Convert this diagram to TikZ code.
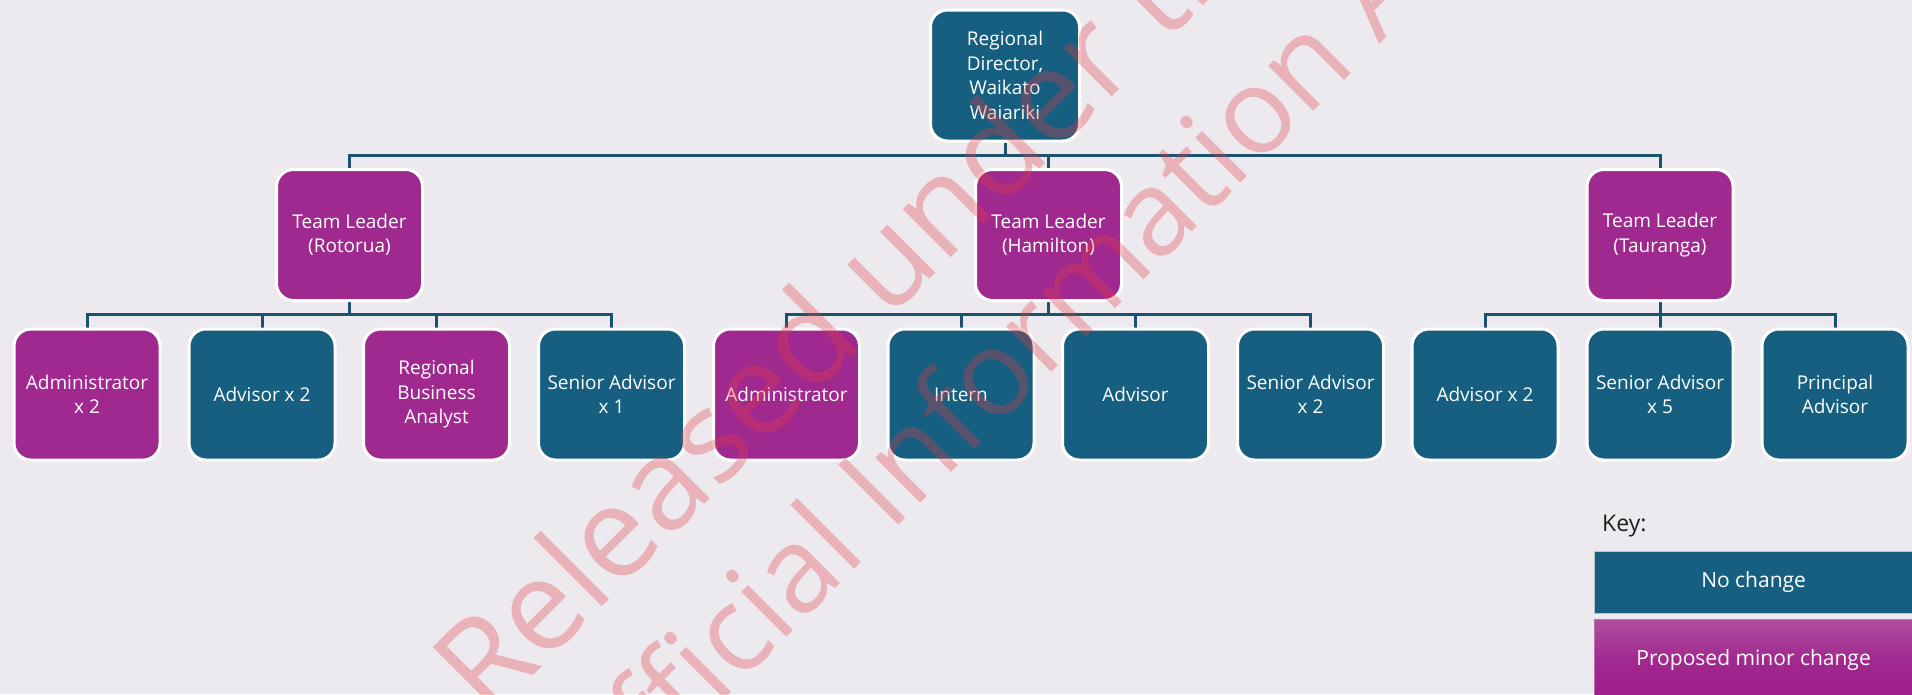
\documentclass[tikz,border=0pt]{standalone}
\usepackage{fontspec}
\setmainfont{Open Sans}
\newfontfamily\wmfont{Open Sans}
\pgfdeclarelayer{bglayer}
\pgfsetlayers{bglayer,main}
\definecolor{bgc}{RGB}{236,234,239}
\definecolor{tealc}{RGB}{23,95,128}
\definecolor{magc}{RGB}{160,41,143}
\definecolor{linec}{RGB}{27,83,110}
\definecolor{wmc}{RGB}{228,58,68}
\definecolor{keyedge}{RGB}{180,200,214}
\definecolor{magtop}{RGB}{176,78,158}
\definecolor{magbot}{RGB}{158,30,140}
\definecolor{magedge}{RGB}{190,110,180}
\begin{document}
\begin{tikzpicture}[x=1pt,y=-1pt,
  box/.style={rectangle, rounded corners=17pt, draw=white, line width=3pt,
    minimum width=146pt, minimum height=131pt, inner sep=0pt, align=center,
    text=white, font=\fontsize{19}{24.5}\selectfont},
  nochg/.style={box, fill=tealc},
  minor/.style={box, fill=magc},
  conn/.style={draw=linec, line width=3pt},
  keybox/.style={rectangle, minimum width=318pt, inner sep=0pt, anchor=north west,
    text=white, font=\fontsize{21}{25}\selectfont, line width=1.2pt},
  wm/.style={rotate=45, anchor=base west, inner sep=0pt, text=wmc, text opacity=0.32}
]
\useasboundingbox (0,0) rectangle (1912,694);
\begin{pgfonlayer}{bglayer}
\fill[bgc] (0,0) rectangle (1912,694);
\end{pgfonlayer}

% top
\node[nochg, minimum width=149pt] (rd) at (1005,75.5) {Regional\\Director,\\Waikato\\Waiariki};
% team leaders
\node[minor] (tl1) at (349.5,235) {Team Leader\\(Rotorua)};
\node[minor] (tl2) at (1048.5,235) {Team Leader\\(Hamilton)};
\node[minor] (tl3) at (1660,235) {Team Leader\\(Tauranga)};
% children
\node[minor] (c1) at (87,394.5) {Administrator\\x 2};
\node[nochg] (c2) at (262,394.5) {Advisor x 2};
\node[minor] (c3) at (436.5,394.5) {Regional\\Business\\Analyst};
\node[nochg] (c4) at (611.5,394.5) {Senior Advisor\\x 1};
\node[minor] (c5) at (786.5,394.5) {Administrator};
\node[nochg] (c6) at (961,394.5) {Intern};
\node[nochg] (c7) at (1135.5,394.5) {Advisor};
\node[nochg] (c8) at (1310.5,394.5) {Senior Advisor\\x 2};
\node[nochg] (c9) at (1485,394.5) {Advisor x 2};
\node[nochg] (c10) at (1660,394.5) {Senior Advisor\\x 5};
\node[nochg] (c11) at (1835,394.5) {Principal\\Advisor};

\coordinate (bar0) at (0,155.5);
\coordinate (bar1) at (0,314.5);

\begin{pgfonlayer}{bglayer}
\draw[conn] (rd.south) -- (rd.south |- bar0);
\draw[conn] (tl1.north) -- (tl1.north |- bar0) -- (tl3.north |- bar0) -- (tl3.north);
\draw[conn] (tl2.north) -- (tl2.north |- bar0);
% Rotorua
\draw[conn] (tl1.south) -- (tl1.south |- bar1);
\draw[conn] (c1.north) -- (c1.north |- bar1) -- (c4.north |- bar1) -- (c4.north);
\draw[conn] (c2.north) -- (c2.north |- bar1);
\draw[conn] (c3.north) -- (c3.north |- bar1);
% Hamilton
\draw[conn] (tl2.south) -- (tl2.south |- bar1);
\draw[conn] (c5.north) -- (c5.north |- bar1) -- (c8.north |- bar1) -- (c8.north);
\draw[conn] (c6.north) -- (c6.north |- bar1);
\draw[conn] (c7.north) -- (c7.north |- bar1);
% Tauranga
\draw[conn] (tl3.south) -- (c10.north);
\draw[conn] (c9.north) -- (c9.north |- bar1) -- (c11.north |- bar1) -- (c11.north);
\end{pgfonlayer}

% key
\node[anchor=base west, inner sep=0pt, text=black!88, font=\fontsize{23}{28}\selectfont] (keyt) at (1602,531) {Key:};
\node[keybox, fill=tealc, draw=keyedge, minimum height=62pt] (k1) at (1594,550.5) {No change};
\node[keybox, draw=magedge, top color=magtop, bottom color=magbot, middle color=magc, minimum height=82pt] (k2) at (1594,618.5) {Proposed minor change};

% watermark
\node[wm, font=\wmfont\fontsize{127}{148}\selectfont] (wm1) at (488,721) {Released under the};
\node[wm, font=\wmfont\fontsize{119}{140}\selectfont] (wm2) at (595,829) {Official Information Act};
\end{tikzpicture}
\end{document}
